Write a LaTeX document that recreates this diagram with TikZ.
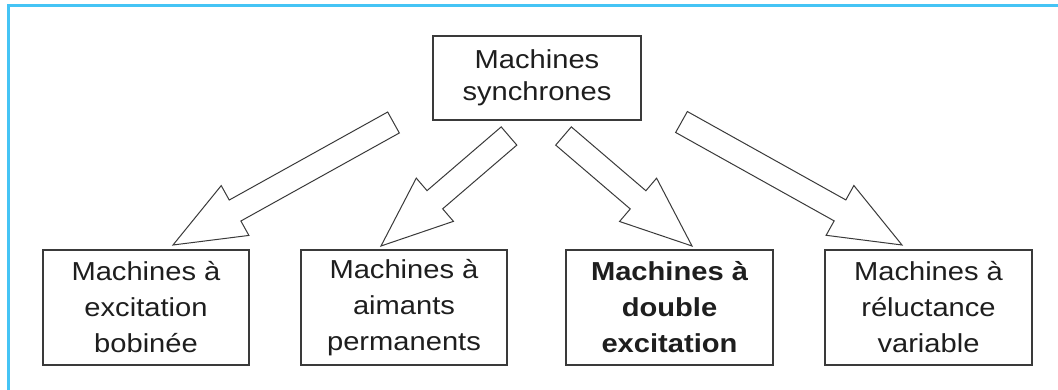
\documentclass[tikz,border=0pt]{standalone}
\usepackage{fontspec}
\setmainfont{Liberation Sans}[FakeStretch=1.12]
\usetikzlibrary{calc}
\definecolor{frameblue}{HTML}{45C4F5}
\definecolor{boxgray}{HTML}{3A3A3A}
\definecolor{txt}{HTML}{1E1E1E}
\tikzset{
  boxnode/.style={draw=boxgray, line width=1.5pt, fill=white, align=center,
    text=txt, inner sep=0pt, minimum height=115pt,
    font=\fontsize{26}{36}\selectfont},
  topbox/.style={boxnode, minimum height=84pt, minimum width=208pt,
    font=\fontsize{26}{32}\selectfont},
  blockarr/.style={draw=boxgray, line width=1pt, fill=white, line join=miter}
}
\newcommand{\blockarrow}[2]{%
  \draw[blockarr]
    ($(#1)!12pt!90:(#2)$) --
    ($($(#2)!71pt!(#1)$)!12pt!90:(#2)$) --
    ($($(#2)!71pt!(#1)$)!28.5pt!90:(#2)$) --
    (#2) --
    ($($(#2)!71pt!(#1)$)!28.5pt!-90:(#2)$) --
    ($($(#2)!71pt!(#1)$)!12pt!-90:(#2)$) --
    ($(#1)!12pt!-90:(#2)$) -- cycle;}
\begin{document}
\begin{tikzpicture}[x=1pt,y=-1pt]
\useasboundingbox (0,0) rectangle (1058,390);
\fill[white] (0,0) rectangle (1058,390);
\draw[frameblue, line width=2.5pt] (8.5,390) -- (8.5,5.5) -- (1058,5.5);

\node[topbox] (top) at (537,78) {Machines\\synchrones};
\node[boxnode, minimum width=206pt] (b1) at (146,307.5) {Machines à\\excitation\\bobinée};
\node[boxnode, minimum width=206pt] (b2) at (404,307.5) {Machines à\\aimants\\permanents};
\node[boxnode, minimum width=207pt, font=\fontsize{26}{36}\selectfont\bfseries] (b3) at (669.5,307.5) {Machines à\\double\\excitation};
\node[boxnode, minimum width=207pt] (b4) at (928.5,307.5) {Machines à\\réluctance\\variable};

\coordinate (t1) at (393.5,122.5); \coordinate (p1) at (173,245);
\coordinate (t2) at (509,136);     \coordinate (p2) at (381,246);
\coordinate (t3) at (563.5,136);   \coordinate (p3) at (692,246);
\coordinate (t4) at (681.5,122);   \coordinate (p4) at (902,245);
\blockarrow{t1}{p1}
\blockarrow{t2}{p2}
\blockarrow{t3}{p3}
\blockarrow{t4}{p4}
\end{tikzpicture}
\end{document}
